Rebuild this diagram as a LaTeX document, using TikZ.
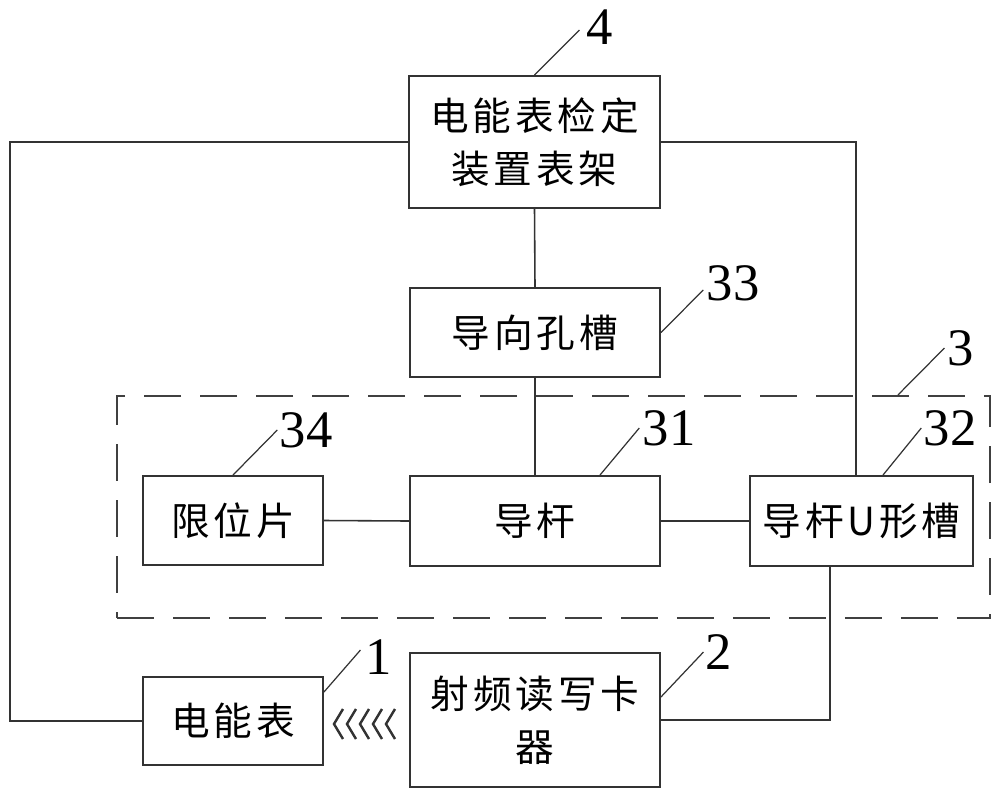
\documentclass[tikz,border=0pt]{standalone}
\usepackage{fontspec}
\setmainfont{Liberation Serif}
\newfontfamily\cjk[LetterSpace=10]{Noto Sans CJK SC}
\usetikzlibrary{positioning,calc}
\tikzset{
  unit/.style={draw=black!80,line width=1.1pt,inner sep=0pt,align=center,
    font=\cjk\fontsize{22}{30}\selectfont},
  group/.style={draw=black!75,line width=1.2pt,dash pattern=on 0.74cm off 0.38cm},
  link/.style={draw=black!80,line width=0.9pt},
  tag/.style={inner sep=0pt,font=\fontsize{30}{30}\selectfont},
  lead/.style={draw=black!80,line width=0.7pt}
}

\begin{document}
\begin{tikzpicture}[x=0.02cm,y=-0.02cm]
  \useasboundingbox (0,0) rectangle (1000,798);

  % blocks
  \node[unit,minimum width=5.02cm,minimum height=2.64cm] (rack) at (534.5,142) {电能表检定\\装置表架};
  \node[unit,minimum width=5cm,minimum height=1.78cm] (hole) at (535,332.5) {导向孔槽};
  \node[group,minimum width=17.46cm,minimum height=4.44cm] (rodset) at (553.5,507) {};
  \node[unit,minimum width=3.6cm,minimum height=1.78cm] (stop) at (233,520.5) {限位片};
  \node[unit,minimum width=5cm,minimum height=1.8cm] (rod) at (535,521) {导杆};
  \node[unit,minimum width=4.46cm,minimum height=1.8cm] (slot) at (861.5,521) {导杆U形槽};
  \node[unit,minimum width=3.6cm,minimum height=1.76cm] (meter) at (233,721) {电能表};
  \node[unit,minimum width=5cm,minimum height=2.68cm] (reader) at (535,720) {射频读写卡\\器};

  % links
  \coordinate (lcorner) at (10,142);
  \draw[link] (rack.west) -- (lcorner) |- (meter.west);
  \draw[link] (rack.east) -| ([xshift=-0.11cm]slot.north);
  \draw[link] (rack.south) -- (hole.north);
  \draw[link] (hole.south) -- (rod.north);
  \draw[link] (stop.east) -- (rod.west);
  \draw[link] (rod.east) -- (slot.west);
  \draw[link] ([xshift=-0.63cm]slot.south) |- (reader.east);

  % radio waves
  \coordinate (wave) at (334,724);
  \foreach \i in {0,...,4}
    \draw[link,line width=1.4pt] ($(wave)+(9+13*\i,-15)$) -- ($(wave)+(13*\i,0)$) -- ($(wave)+(9+13*\i,15)$);

  % reference numbers
  \node[tag] (n4) at (600,27) {4};
  \node[tag] (n33) at (733,283) {33};
  \node[tag] (n3) at (961,348) {3};
  \node[tag] (n32) at (950,428) {32};
  \node[tag] (n34) at (306,430) {34};
  \node[tag] (n31) at (669,428) {31};
  \node[tag] (n1) at (379,657) {1};
  \node[tag] (n2) at (719,652) {2};

  \draw[lead] (rack.north) -- ([xshift=-0.14cm,yshift=-0.06cm]n4.west);
  \draw[lead] (hole.east) -- ([xshift=-0.06cm,yshift=-0.14cm]n33.west);
  \draw[lead] ([xshift=6.89cm]rodset.north) -- ([xshift=-0.06cm]n3.west);
  \draw[lead] ([xshift=0.43cm]slot.north) -- ([xshift=-0.04cm]n32.west);
  \draw[lead] (stop.north) -- ([xshift=-0.04cm]n34.west);
  \draw[lead] ([xshift=1.3cm]rod.north) -- ([xshift=-0.06cm]n31.west);
  \draw[lead] ([yshift=0.58cm]meter.east) -- ([xshift=-0.1cm,yshift=0.14cm]n1.west);
  \draw[lead] ([yshift=0.46cm]reader.east) -- ([xshift=-0.04cm]n2.west);
\end{tikzpicture}
\end{document}
